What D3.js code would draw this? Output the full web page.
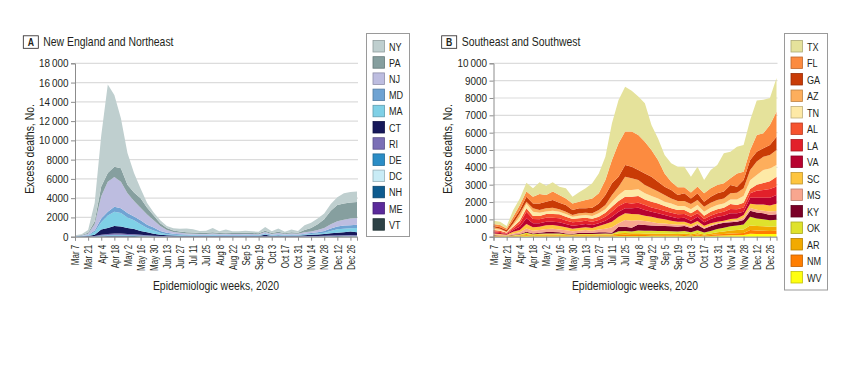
<!DOCTYPE html>
<html><head><meta charset="utf-8">
<script src="https://cdn.jsdelivr.net/npm/d3@7"></script>
<style>
body{margin:0;background:#fff;}
svg text{font-family:"Liberation Sans",Arial,sans-serif;fill:#231f20;}
</style></head><body>
<svg id="c" width="860" height="366"></svg>
<script>
// ---------- data ----------
const weeks = ["Mar 7","Mar 14","Mar 21","Mar 28","Apr 4","Apr 11","Apr 18","Apr 25","May 2","May 9","May 16","May 23","May 30","Jun 6","Jun 13","Jun 20","Jun 27","Jul 4","Jul 11","Jul 18","Jul 25","Aug 1","Aug 8","Aug 15","Aug 22","Aug 29","Sep 5","Sep 12","Sep 19","Sep 26","Oct 3","Oct 10","Oct 17","Oct 24","Oct 31","Nov 7","Nov 14","Nov 21","Nov 28","Dec 5","Dec 12","Dec 19","Dec 26","Jan 2"];
const tickLabels = ["Mar 7","Mar 21","Apr 4","Apr 18","May 2","May 16","May 30","Jun 13","Jun 27","Jul 11","Jul 25","Aug 8","Aug 22","Sep 5","Sep 19","Oct 3","Oct 17","Oct 31","Nov 14","Nov 28","Dec 12","Dec 26"];

// Panel A: New England and Northeast (legend order, top of stack first)
const statesA = ["NY","PA","NJ","MD","MA","CT","RI","DE","DC","NH","ME","VT"];
const colorsA = ["#bfcfcf","#869f9f","#bdbde0","#6fa3d3","#7fd0e6","#16185a","#7b6fb6","#2b8dc6","#c9ecf6","#0d5b8f","#5b2a9b","#2d4246"];
const NY = [60,80,300,1900,5300,9200,7450,5200,3300,2000,1000,500,300,300,200,230,270,390,350,210,220,450,170,320,180,180,220,180,160,380,180,340,150,290,160,500,550,600,600,700,800,1050,1100,1100];
const PA = [20,40,100,300,1000,900,1050,1400,900,900,1000,700,500,300,200,150,150,140,120,110,120,130,110,120,110,110,110,110,100,140,100,140,100,140,120,250,350,600,900,1400,1700,1700,1650,1650];
const NJ = [20,40,120,650,2300,3100,3100,2750,2050,1600,1300,1050,750,500,300,200,150,110,100,90,90,100,90,100,85,85,95,85,80,130,90,120,80,100,90,150,170,250,300,450,550,600,700,700];
const MD = [10,20,50,150,400,400,500,500,450,400,400,350,300,200,150,100,80,70,70,60,60,70,60,65,60,60,65,60,60,70,60,70,60,70,60,80,100,120,180,250,280,330,330,350];
const MA = [20,30,70,300,750,1300,1500,1400,1100,900,700,450,350,200,100,80,70,60,60,55,55,65,55,60,55,55,55,55,50,80,50,70,50,60,50,70,80,100,140,250,350,370,320,450];
const CT = [10,25,40,140,550,620,770,730,620,550,400,300,190,120,90,70,60,50,40,40,40,45,40,40,35,35,40,35,35,150,45,75,45,60,60,90,130,150,180,230,280,300,380,290];
const RI = [4,6,8,24,80,112,132,128,112,100,80,60,44,32,24,20,16,16,16,14,14,16,14,14,14,14,14,14,14,20,14,18,14,16,16,24,28,32,40,48,56,60,68,64];
const DE = [2,3,4,12,40,56,66,64,56,50,40,30,22,16,12,10,8,8,8,7,7,8,7,7,7,7,7,7,7,10,7,9,7,8,8,12,14,16,20,24,28,30,34,32];
const DC = [2,2,3,9,30,42,50,48,42,38,30,23,17,12,9,8,6,6,6,5,5,6,5,5,5,5,5,5,5,8,5,7,5,6,6,9,10,12,15,18,21,23,26,24];
const NH = [1,2,3,7,24,34,40,38,34,30,24,18,13,10,7,6,5,5,5,4,4,5,4,4,4,4,4,4,4,6,4,5,4,5,5,7,9,10,12,14,17,18,20,19];
const ME = [1,1,1,4,14,20,23,22,20,17,14,10,8,6,4,3,3,3,3,3,3,3,3,3,3,3,3,3,3,3,3,3,3,3,3,4,5,6,7,9,10,10,12,11];
const VT = [0,1,1,4,12,16,19,20,16,15,12,9,6,4,4,3,2,2,2,2,2,2,2,2,2,2,2,2,2,3,2,3,2,2,2,4,4,4,6,7,8,9,10,10];
const yTicksA = [0,2000,4000,6000,8000,10000,12000,14000,16000,18000];

// Panel B: Southeast and Southwest
const statesB = ["TX","FL","GA","AZ","TN","AL","LA","VA","SC","MS","KY","OK","AR","NM","WV"];
const colorsB = ["#e5e29b","#fc8b40","#c93b06","#fdae5c","#fde9a6","#f6532f","#e2202a","#b8022f","#fec53e","#f8a68f","#7a0027","#dfe22c","#f2aa00","#ff7e00","#ffff10"];
const TX = [190,195,135,390,380,515,480,675,540,535,485,580,390,540,675,870,1150,1345,2120,2495,2590,2360,2210,2210,1440,1250,1060,1060,1190,1190,910,1140,770,1050,1155,1730,1535,1540,1540,1730,1980,1940,1560,1940];
const FL = [115,130,95,190,290,290,390,540,380,485,440,380,380,385,480,540,580,870,1340,1925,1925,2020,2020,1830,1540,1250,765,480,450,350,340,400,480,490,480,480,385,765,480,580,970,860,1150,1440];
const GA = [75,80,95,190,190,290,285,380,385,445,380,390,290,285,250,320,380,570,680,575,675,675,580,670,670,570,485,480,340,440,325,385,290,350,385,390,480,345,480,570,570,485,580,770];
const AZ = [80,60,40,100,200,100,195,155,175,170,140,130,100,140,135,160,190,250,380,485,770,675,540,480,440,390,380,290,290,290,305,285,290,290,285,290,350,390,440,600,770,765,770,865];
const TN = [75,55,20,90,230,285,250,195,150,190,150,160,130,150,150,150,200,195,290,340,380,380,380,350,330,290,250,285,230,230,230,250,230,230,250,250,265,320,390,500,560,750,740,675];
const AL = [75,75,40,100,150,195,170,190,210,210,230,210,190,195,180,175,190,235,290,290,350,390,390,320,330,320,290,250,250,230,200,230,190,230,230,230,285,250,270,250,350,400,450,560];
const LA = [60,60,35,95,190,380,250,230,235,235,230,210,195,195,190,195,190,230,290,330,325,285,290,290,250,250,230,235,230,210,230,200,190,190,200,230,250,230,250,250,400,450,500,500];
const VA = [60,55,40,95,195,330,230,190,210,195,215,190,175,170,190,170,155,190,285,290,285,325,380,330,290,290,250,230,195,235,190,250,195,250,285,290,330,300,190,350,400,400,450,500];
const SC = [55,40,40,100,135,250,195,195,215,210,195,175,150,155,155,155,195,270,325,380,390,390,340,310,300,280,240,200,175,165,150,140,115,110,85,70,120,100,150,250,300,350,350,420];
const MS = [40,40,15,75,95,190,155,155,170,190,170,175,155,115,155,115,170,210,310,190,380,400,250,220,200,150,140,120,110,80,80,80,60,60,60,50,70,85,140,150,150,150,200,180];
const KY = [25,15,15,25,25,60,50,60,80,80,70,50,35,70,70,70,80,70,60,260,250,220,340,330,310,300,290,280,280,290,240,310,220,270,270,280,230,225,260,350,350,350,300,320];
const OK = [25,20,15,30,40,80,50,60,70,70,65,40,30,50,50,50,50,60,50,120,120,100,160,160,160,160,160,150,140,140,120,150,110,140,190,220,240,260,280,500,430,400,380,390];
const AR = [20,20,15,30,40,60,40,50,50,50,50,45,40,50,50,50,50,50,50,100,100,100,100,90,90,80,80,80,80,90,70,100,60,90,120,140,170,180,200,270,260,260,240,240];
const NM = [15,10,10,20,30,50,30,40,45,45,40,35,30,35,35,35,40,40,40,60,70,60,60,60,50,50,50,50,45,60,40,70,40,60,80,90,110,110,120,210,200,190,180,190];
const WV = [10,10,5,10,20,40,20,20,25,25,25,20,20,25,25,25,30,30,30,40,40,40,40,40,40,40,40,40,35,40,30,50,30,40,60,70,80,90,100,170,160,150,150,160];
const yTicksB = [0,1000,2000,3000,4000,5000,6000,7000,8000,9000,10000];

// ---------- drawing ----------
const svg = d3.select("#c");
const SX = 0.79; // condensed look of the original typeface
const fmt = v => v >= 10000 ? String(Math.floor(v/1000)) + "\u2009" + String(v % 1000).padStart(3,"0") : String(v);

function label(g, x, y, txt, size, anchor, extra) {
  return g.append("text")
    .attr("transform", `translate(${x},${y})${extra || ""} scale(${SX},1)`)
    .attr("text-anchor", anchor || "start").attr("font-size", size).text(txt);
}

function panel(cfg) {
  const g = svg.append("g");
  const x = d3.scalePoint().domain(weeks).range([cfg.x0, cfg.x1]);
  const y = d3.scaleLinear().domain([0, cfg.yTicks[cfg.yTicks.length-1]]).range([236.7, 63.3]);

  // title
  g.append("rect").attr("x", cfg.bx).attr("y", 35.8).attr("width", 15).attr("height", 12.5)
    .attr("fill", "#fff").attr("stroke", "#231f20").attr("stroke-width", 0.8);
  label(g, cfg.bx + 7.5, 46, cfg.letter, 11, "middle").attr("font-weight", "bold");
  label(g, cfg.bx + 20, 45.5, cfg.title, 13.2, "start");

  // grid
  g.append("g").selectAll("line").data(cfg.yTicks).join("line")
    .attr("x1", cfg.x0).attr("x2", cfg.x1 + 1)
    .attr("y1", d => y(d)).attr("y2", d => y(d))
    .attr("stroke", "#dcdcdc").attr("stroke-width", 1.2);

  // stacked areas
  const keys = cfg.states.slice().reverse();
  const rows = weeks.map((w, i) => {
    const r = {week: w};
    cfg.states.forEach((s, k) => r[s] = cfg.values[k][i]);
    return r;
  });
  const series = d3.stack().keys(keys)(rows);
  const area = d3.area().x(d => x(d.data.week)).y0(d => y(d[0])).y1(d => y(d[1]));
  g.append("g").selectAll("path").data(series).join("path")
    .attr("d", area)
    .attr("fill", d => cfg.colors[cfg.states.indexOf(d.key)]);

  // y axis
  const ya = g.append("g").attr("transform", `translate(${cfg.x0},0)`)
    .call(d3.axisLeft(y).tickValues(cfg.yTicks).tickFormat(fmt).tickSize(4).tickPadding(2));
  ya.attr("font-family", null).attr("font-size", null);
  ya.select(".domain").attr("stroke", "#8c8c8c");
  ya.selectAll(".tick line").attr("stroke", "#8c8c8c");
  ya.selectAll(".tick text").attr("font-size", 11).attr("fill", "#231f20")
    .attr("x", -6.5 / 0.9).attr("transform", "scale(0.9,1)");

  // x axis
  const xa = g.append("g").attr("transform", "translate(0,236.7)")
    .call(d3.axisBottom(x).tickValues(tickLabels).tickSize(4).tickPadding(3));
  xa.attr("font-family", null).attr("font-size", null);
  xa.select(".domain").attr("stroke", "#8c8c8c");
  xa.selectAll(".tick line").attr("stroke", "#8c8c8c");
  xa.selectAll(".tick text").attr("font-size", 10.8).attr("fill", "#231f20")
    .attr("text-anchor", "end").attr("transform", "rotate(-90) scale(0.74,1)")
    .attr("x", -8 / 0.74).attr("y", 0).attr("dy", "0.35em");

  // axis titles
  label(g, (cfg.x0 + cfg.x1) / 2, 290.3, "Epidemiologic weeks, 2020", 13.2, "middle");
  label(g, cfg.ytx, 149, "Excess deaths, No.", 13.2, "middle", " rotate(-90)");

  // legend
  g.append("rect").attr("x", cfg.lx).attr("y", 33.5).attr("width", cfg.lw).attr("height", cfg.lh)
    .attr("fill", "#fff").attr("stroke", "#9a9a9a").attr("stroke-width", 1);
  const li = g.append("g").selectAll("g").data(cfg.states).join("g")
    .attr("transform", (d, i) => `translate(${cfg.lx + 6.5},${40.5 + i * cfg.ls})`);
  li.append("rect").attr("width", 11.5).attr("height", 11.5)
    .attr("fill", (d, i) => cfg.colors[i])
    .attr("stroke", (d, i) => d3.color(cfg.colors[i]).darker(0.8)).attr("stroke-width", 0.8);
  li.append("text").attr("transform", `translate(16,10) scale(${SX},1)`)
    .attr("font-size", 11.5).text(d => d);
}

panel({letter: "A", title: "New England and Northeast", bx: 23.3, x0: 75, x1: 357,
  yTicks: yTicksA, states: statesA, colors: colorsA,
  values: [NY, PA, NJ, MD, MA, CT, RI, DE, DC, NH, ME, VT],
  ytx: 33.5, lx: 366.5, lw: 43, lh: 203, ls: 16.2});
panel({letter: "B", title: "Southeast and Southwest", bx: 441.7, x0: 493.5, x1: 776.5,
  yTicks: yTicksB, states: statesB, colors: colorsB,
  values: [TX, FL, GA, AZ, TN, AL, LA, VA, SC, MS, KY, OK, AR, NM, WV],
  ytx: 452, lx: 784.5, lw: 43, lh: 256.5, ls: 16.5});
</script>
</body></html>
